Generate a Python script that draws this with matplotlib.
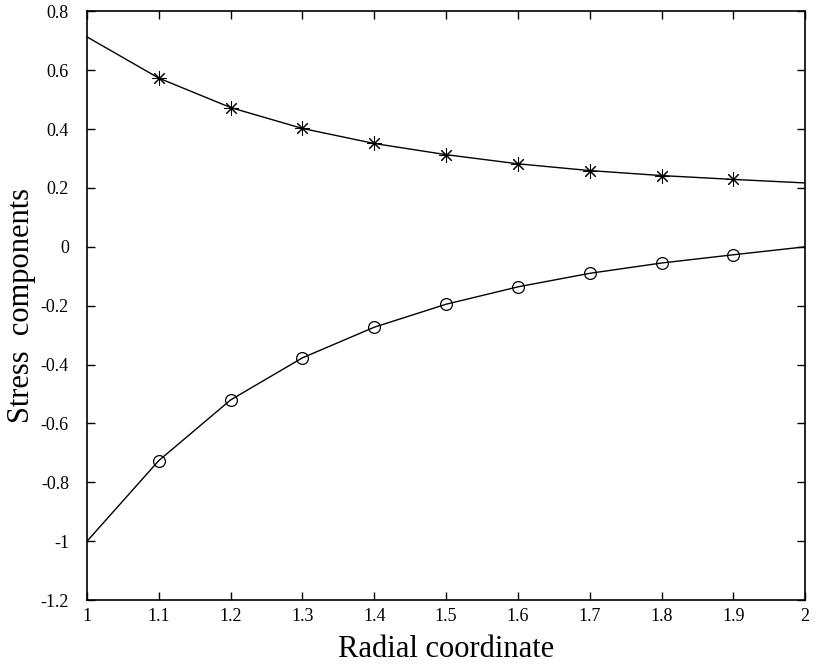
import numpy
from matplotlib import pyplot

# radial coordinate of the computed points
r = [1.0, 1.1, 1.2, 1.3, 1.4, 1.5, 1.6, 1.7, 1.8, 1.9, 2.0]
# hoop stress (stars) and radial stress (circles)
sig_theta = [0.713, 0.573, 0.473, 0.402, 0.351, 0.313, 0.282, 0.259, 0.242, 0.229, 0.217]
sig_r = [-1.0, -0.726, -0.520, -0.377, -0.273, -0.195, -0.136, -0.090, -0.055, -0.027, 0.0]

xticks = [1, 1.1, 1.2, 1.3, 1.4, 1.5, 1.6, 1.7, 1.8, 1.9, 2]
yticks = [-1.2, -1.0, -0.8, -0.6, -0.4, -0.2, 0.0, 0.2, 0.4, 0.6, 0.8]

pyplot.rcParams['font.family'] = ['Liberation Serif', 'DejaVu Serif']

fig = pyplot.figure(figsize=(8.37, 6.66), dpi=100)
ax = fig.add_axes([0.104, 0.099, 0.858, 0.884])

# lines through every point, markers only at inner points
ax.plot(r, sig_theta, '-', color='black', lw=1.0)
ax.plot(r[1:-1], sig_theta[1:-1], color='black', ms=10.5, mew=0.75,
        marker=(8, 2, 0), linestyle='none')
ax.plot(r, sig_r, '-', color='black', lw=1.0)
ax.plot(r[1:-1], sig_r[1:-1], 'o', color='black', mfc='none', ms=8.5, mew=0.9)

ax.set_xlim(1, 2)
ax.set_ylim(-1.2, 0.8)
ax.set_xticks(xticks)
ax.set_xticklabels(['1', '1.1', '1.2', '1.3', '1.4', '1.5', '1.6', '1.7', '1.8', '1.9', '2'])
ax.set_yticks(yticks)
ax.set_yticklabels(['-1.2', '-1', '-0.8', '-0.6', '-0.4', '-0.2', '0', '0.2', '0.4', '0.6', '0.8'])
ax.tick_params(direction='in', top=True, right=True, length=6, width=1,
               labelsize=13)
ax.tick_params(axis='x', pad=6)
ax.tick_params(axis='y', pad=13)
for s in ax.spines.values():
	s.set_linewidth(1.2)

ax.set_xlabel('Radial coordinate', fontsize=22, labelpad=7)
ax.set_ylabel('Stress  components', fontsize=22, labelpad=3)

fig.savefig('out.png', dpi=100)
